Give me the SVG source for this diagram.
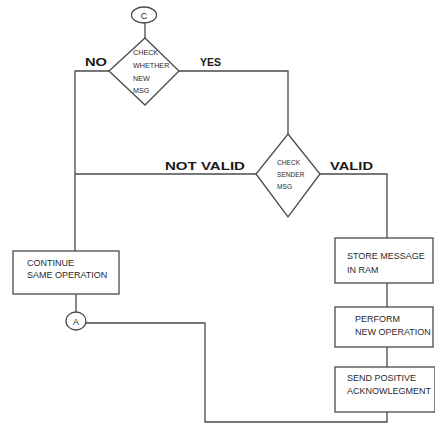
<svg xmlns="http://www.w3.org/2000/svg" width="435" height="425" viewBox="0 0 435 425">
<style>
.ln{fill:none;stroke:#4a4a4a;stroke-width:1.3}
.sh{fill:#fff;stroke:#4a4a4a;stroke-width:1.3}
.t{font-family:"Liberation Sans",Arial,sans-serif;font-size:9px;fill:#2a2a2a}
.d1{font-family:"Liberation Sans",Arial,sans-serif;font-size:7.2px;fill:#2a2a2a}
.d2{font-family:"Liberation Sans",Arial,sans-serif;font-size:6.6px;fill:#2a2a2a}
.lb{font-family:"Liberation Sans",Arial,sans-serif;font-size:11.5px;font-weight:bold;fill:#1a1a1a}
</style>
<rect width="435" height="425" fill="#fff"/>
<g id="connectors">
<path class="ln" d="M145,23 V38"/>
<path class="ln" d="M109,71 H75 V251"/>
<path class="ln" d="M179,71 H288 V134"/>
<path class="ln" d="M256,174 H75"/>
<path class="ln" d="M320,174 H387 V238"/>
<path class="ln" d="M76,294 V312"/>
<path class="ln" d="M387,283 V307"/>
<path class="ln" d="M387,347 V367"/>
<path class="ln" d="M86,323 H205 V422 H387 V412"/>
</g>
<g id="label-no"><text class="lb" x="85" y="66" textLength="22" lengthAdjust="spacingAndGlyphs">NO</text></g>
<g id="label-yes"><text class="lb" x="200" y="66" textLength="21" lengthAdjust="spacingAndGlyphs">YES</text></g>
<g id="label-notvalid"><text class="lb" x="165" y="170" textLength="80" lengthAdjust="spacingAndGlyphs">NOT VALID</text></g>
<g id="label-valid"><text class="lb" x="330" y="170" textLength="43" lengthAdjust="spacingAndGlyphs">VALID</text></g>
<g id="conn-c">
<ellipse class="sh" cx="144" cy="15" rx="12.5" ry="8"/>
<text class="t" x="144" y="18.5" text-anchor="middle" font-size="9">C</text>
</g>
<g id="check-new">
<polygon class="sh" points="145,38 179,71 145,105 109,71"/>
<text class="d1" x="133" y="55">CHECK</text>
<text class="d1" x="133" y="68">WHETHER</text>
<text class="d1" x="133" y="81">NEW</text>
<text class="d1" x="133" y="93">MSG</text>
</g>
<g id="check-sender">
<polygon class="sh" points="288,134 320,174 288,217 256,174"/>
<text class="d2" x="277" y="165">CHECK</text>
<text class="d2" x="277" y="177">SENDER</text>
<text class="d2" x="277" y="189">MSG</text>
</g>
<g id="continue">
<rect class="sh" x="13" y="251" width="106" height="43"/>
<text class="t" x="27" y="266">CONTINUE</text>
<text class="t" x="27" y="278">SAME OPERATION</text>
</g>
<g id="conn-a">
<ellipse class="sh" cx="76" cy="321" rx="10" ry="9"/>
<text class="t" x="76" y="324.5" text-anchor="middle" font-size="9">A</text>
</g>
<g id="store">
<rect class="sh" x="335" y="238" width="98" height="45"/>
<text class="t" x="347" y="259">STORE MESSAGE</text>
<text class="t" x="347" y="273">IN RAM</text>
</g>
<g id="perform">
<rect class="sh" x="335" y="307" width="98" height="40"/>
<text class="t" x="355" y="322">PERFORM</text>
<text class="t" x="355" y="335">NEW OPERATION</text>
</g>
<g id="send">
<rect class="sh" x="335" y="367" width="100" height="45"/>
<text class="t" x="347" y="381">SEND POSITIVE</text>
<text class="t" x="347" y="394">ACKNOWLEGMENT</text>
</g>
</svg>
